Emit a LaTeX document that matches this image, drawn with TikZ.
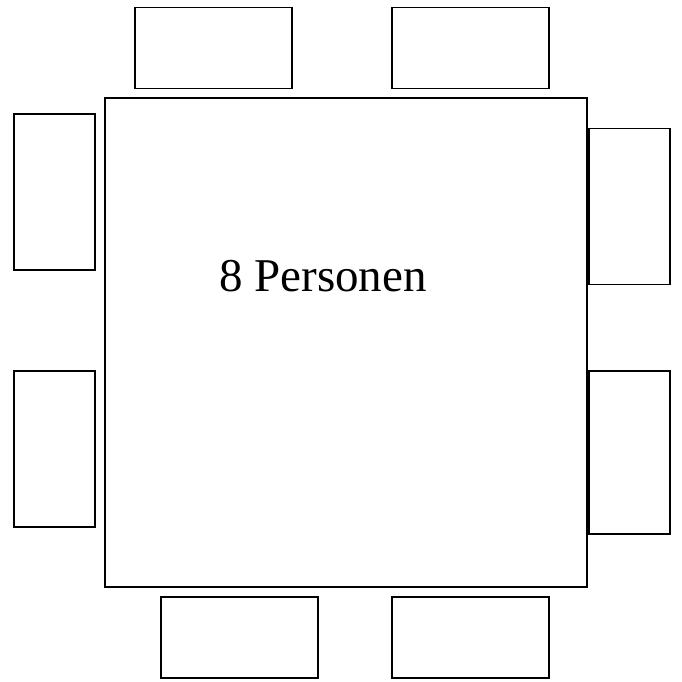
\documentclass[tikz,border=0pt]{standalone}
\usepackage{fontspec}
\setmainfont{Liberation Serif}
\usepackage{tikz}

\begin{document}
\begin{tikzpicture}[
  x=1pt, y=-1pt,
  tisch/.style={draw, line width=1.4pt, minimum width=482pt, minimum height=489pt, inner sep=0pt},
  stuhlh/.style={draw, line width=1.3pt, minimum width=157pt, minimum height=81pt, inner sep=0pt},
  stuhlv/.style={draw, line width=1.3pt, minimum width=81pt, minimum height=156pt, inner sep=0pt},
  label/.style={font=\fontsize{47}{56}\selectfont, inner sep=0pt}
]
\useasboundingbox (0,0) rectangle (681,682);
\node[tisch] (tisch) at (346,342.5) {};
\node[label] (text) at (323,276) {8 Personen};
% Stuehle oben und unten
\node[stuhlh] (oben1)  at (213.5,48) {};
\node[stuhlh] (oben2)  at (470.5,48) {};
\node[stuhlh] (unten1) at (239.5,637.5) {};
\node[stuhlh] (unten2) at (470.5,637.5) {};
% Stuehle links und rechts
\node[stuhlv] (links1)  at (54.5,192) {};
\node[stuhlv] (links2)  at (54.5,449) {};
\node[stuhlv] (rechts1) at (629.5,206.5) {};
\node[stuhlv, minimum height=163pt] (rechts2) at (629.5,452.5) {};
\end{tikzpicture}
\end{document}
